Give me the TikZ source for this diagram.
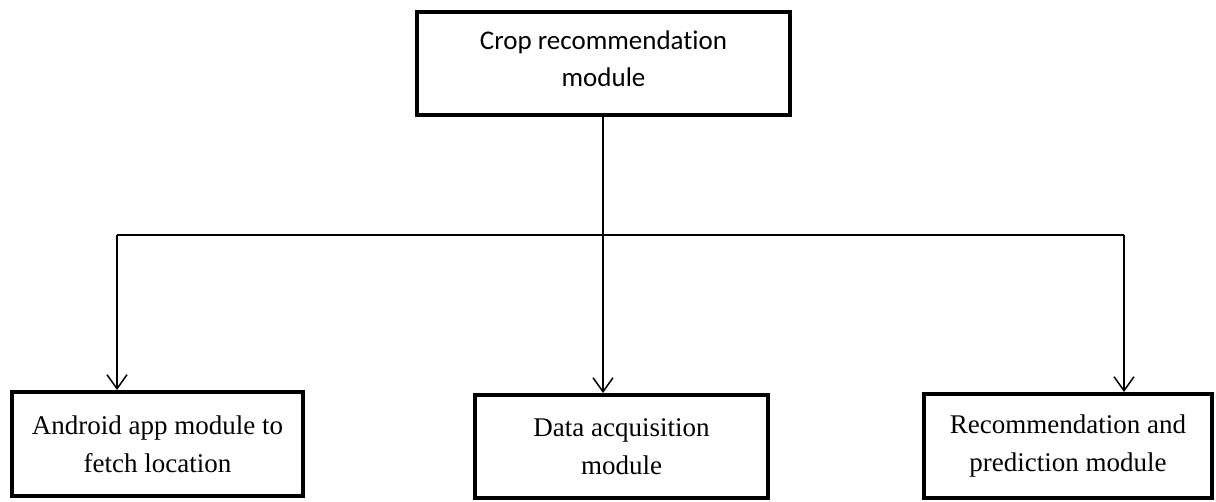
\documentclass[tikz,border=0pt]{standalone}
\usepackage{fontspec}
\setmainfont{Liberation Serif}
\newfontfamily\calibrisub[Ligatures=CommonOff]{Carlito}
\usetikzlibrary{arrows.meta}

\begin{document}
\begin{tikzpicture}[x=1pt, y=-1pt,
  modbox/.style={draw=black, line width=4pt, fill=white, rectangle,
    inner sep=0pt, align=center},
  maintext/.style={inner sep=0pt, align=center,
    font=\calibrisub\fontsize{27}{37}\selectfont},
  subbox/.style={modbox, font=\fontsize{27}{38}\selectfont},
  link/.style={draw=black, line width=1.5pt},
  feed/.style={link, -{Straight Barb[length=14pt, width=20pt, line width=1.5pt]}}
]
\useasboundingbox (0,0) rectangle (1216,502);

% main module: frame, then its caption set a little above centre
\node[modbox, minimum width=373pt, minimum height=103pt] (crop) at (603.5,63.5) {};
\node[maintext] (croptext) at ([yshift=5pt]crop.center)
  {Crop recommendation\\module};

% sub-modules
\node[subbox, minimum width=291pt, minimum height=104pt] (android) at (157.5,444)
  {Android app module to\\fetch location};
\node[subbox, minimum width=293pt, minimum height=103pt] (data) at (621.5,446.5)
  {Data acquisition\\module};
\node[subbox, minimum width=288pt, minimum height=104pt] (reco) at (1068,446)
  {Recommendation and\\prediction module};

% bus line
\coordinate (busL) at (117,235);
\coordinate (busM) at (603,235);
\coordinate (busR) at (1124,235);

\draw[link] (busM |- crop.south) -- (busM);
\draw[link] (busL) -- (busR);
\draw[feed] (busL) -- (busL |- android.north);
\draw[feed] (busM) -- (busM |- data.north);
\draw[feed] (busR) -- (busR |- reco.north);
\end{tikzpicture}
\end{document}
